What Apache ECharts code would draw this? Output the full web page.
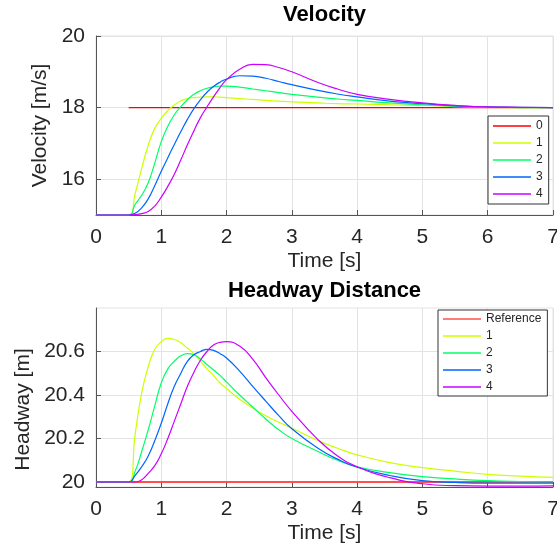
<!DOCTYPE html>
<html>
<head>
<meta charset="utf-8">
<script src="https://cdn.jsdelivr.net/npm/echarts@6/dist/echarts.min.js"></script>
<style>
  html, body { margin: 0; padding: 0; background: #fff; }
  #chart { width: 557px; height: 549px; }
</style>
</head>
<body>
<div id="chart"></div>
<script>
// time samples [s]
const time = [0, 0.5, 0.6, 0.7, 0.8, 0.9, 1.0, 1.1, 1.2, 1.3, 1.4, 1.5, 1.6, 1.7, 1.8, 1.9, 2.0,
              2.2, 2.4, 2.6, 2.8, 3.0, 3.4, 3.7, 4.0, 4.5, 5.0, 5.5, 6.0, 6.5, 7.0];

// velocity [m/s]
const velRefTime = [0.5, 7];
const velRef = [18, 18];
const vel1 = [15, 15, 15.6, 16.3, 16.95, 17.42, 17.7, 17.92, 18.07, 18.19, 18.25, 18.28, 18.29, 18.3, 18.3, 18.29, 18.28,
              18.25, 18.23, 18.2, 18.18, 18.16, 18.13, 18.11, 18.1, 18.08, 18.06, 18.03, 18.01, 18.0, 18.0];
const vel2 = [15, 15, 15.3, 15.55, 15.9, 16.45, 17.05, 17.48, 17.8, 18.03, 18.22, 18.37, 18.47, 18.54, 18.58, 18.6, 18.6,
              18.57, 18.52, 18.47, 18.42, 18.37, 18.29, 18.24, 18.2, 18.13, 18.08, 18.04, 18.02, 18.0, 18.0];
const vel3 = [15, 15, 15.05, 15.2, 15.45, 15.82, 16.22, 16.6, 16.97, 17.33, 17.67, 17.97, 18.22, 18.43, 18.59, 18.71, 18.8,
              18.89, 18.88, 18.82, 18.73, 18.64, 18.48, 18.38, 18.3, 18.18, 18.11, 18.05, 18.02, 18.01, 18.0];
const vel4 = [15, 15, 15.01, 15.04, 15.1, 15.25, 15.5, 15.8, 16.14, 16.54, 16.96, 17.35, 17.72, 18.02, 18.3, 18.56, 18.78,
              19.07, 19.21, 19.2, 19.12, 19.0, 18.7, 18.52, 18.37, 18.23, 18.13, 18.06, 18.02, 18.01, 18.0];

// headway [m]
const headRefTime = [0, 7];
const headRef = [20, 20];
const head1 = [20, 20, 20.22, 20.41, 20.53, 20.61, 20.645, 20.66, 20.655, 20.64, 20.615, 20.59, 20.555, 20.52, 20.49, 20.455, 20.43,
               20.38, 20.34, 20.305, 20.275, 20.248, 20.19, 20.155, 20.125, 20.089, 20.066, 20.05, 20.035, 20.027, 20.021];
const head2 = [20, 20, 20.05, 20.14, 20.24, 20.35, 20.455, 20.52, 20.555, 20.58, 20.59, 20.585, 20.565, 20.54, 20.515, 20.49, 20.46,
               20.4, 20.345, 20.29, 20.24, 20.2, 20.14, 20.1, 20.07, 20.043, 20.025, 20.014, 20.006, 20.002, 20.0];
const head3 = [20, 20, 20.03, 20.07, 20.12, 20.19, 20.27, 20.36, 20.44, 20.5, 20.555, 20.585, 20.6, 20.61, 20.605, 20.59, 20.57,
               20.51, 20.44, 20.372, 20.305, 20.245, 20.155, 20.105, 20.068, 20.03, 20.006, 19.998, 19.995, 19.995, 19.995];
const head4 = [20, 20, 20.0, 20.01, 20.04, 20.075, 20.13, 20.2, 20.28, 20.36, 20.44, 20.505, 20.56, 20.6, 20.63, 20.642, 20.645,
               20.625, 20.565, 20.48, 20.4, 20.325, 20.195, 20.12, 20.07, 20.02, 19.992, 19.983, 19.981, 19.981, 19.982];

const velTicks = [16, 18, 20];
const headTicks = [20, 20.2, 20.4, 20.6];
const xTicks = [0, 1, 2, 3, 4, 5, 6, 7];

const velNames = ['0', '1', '2', '3', '4'];
const headNames = ['Reference', '1', '2', '3', '4'];
const colors = ['#ff0000', '#ccff00', '#00ff66', '#0066ff', '#cc00ff'];

const FONT = 'Liberation Sans, Arial, Helvetica, sans-serif';
const TXT = '#262626';
const AXIS = '#555555';
const GRIDC = '#e3e3e3';

const pairs = (ts, vs) => ts.map((t, i) => [t, vs[i]]);

const xAxisFor = (gridIndex) => ({
    type: 'value', gridIndex: gridIndex, min: 0, max: 7, interval: 1,
    name: 'Time [s]', nameLocation: 'middle', nameGap: 36,
    nameTextStyle: { fontFamily: FONT, fontSize: 21, color: TXT },
    axisLine: { show: true, lineStyle: { color: AXIS, width: 1 } },
    axisTick: { show: true, inside: true, length: 5, lineStyle: { color: AXIS } },
    axisLabel: { fontFamily: FONT, fontSize: 21, color: TXT, margin: 12,
                 customValues: xTicks },
    splitLine: { show: true, lineStyle: { color: GRIDC, width: 1 } }
});

const yAxisFor = (gridIndex, min, max, ticks, name, gap, pad) => ({
    type: 'value', gridIndex: gridIndex, min: min, max: max,
    name: name, nameLocation: 'middle', nameGap: gap,
    nameTextStyle: { fontFamily: FONT, fontSize: 21, color: TXT, padding: pad },
    axisLine: { show: true, lineStyle: { color: AXIS, width: 1 } },
    axisTick: { show: true, inside: true, length: 5, lineStyle: { color: AXIS }, customValues: ticks },
    axisLabel: { fontFamily: FONT, fontSize: 21, color: TXT, margin: 11, customValues: ticks },
    splitLine: { show: true, lineStyle: { color: GRIDC, width: 1 } }
});

const lineSeries = (name, data, color, axisIdx, width) => ({
    name: name, type: 'line', data: data,
    xAxisIndex: axisIdx, yAxisIndex: axisIdx,
    symbol: 'none', showSymbol: false, smooth: 0.5,
    lineStyle: { color: color, width: width || 1.2 },
    itemStyle: { color: color },
    emphasis: { disabled: true }
});

const velData = [pairs(velRefTime, velRef), pairs(time, vel1), pairs(time, vel2), pairs(time, vel3), pairs(time, vel4)];
const headData = [pairs(headRefTime, headRef), pairs(time, head1), pairs(time, head2), pairs(time, head3), pairs(time, head4)];

const series = [];
velData.forEach((d, i) => series.push(lineSeries(velNames[i], d, colors[i], 0)));
headData.forEach((d, i) => series.push(lineSeries(headNames[i] + ' ', d, i === 0 ? '#ff5050' : colors[i], 1, i === 0 ? 2 : 1.2)));

const legendStyle = {
    orient: 'vertical', backgroundColor: '#fff', borderColor: '#333', borderWidth: 1,
    icon: 'rect', itemWidth: 38, itemHeight: 1.4, itemGap: 5,
    textStyle: { fontFamily: FONT, fontSize: 12, color: TXT }
};

const gridBase = { left: 96, width: 457, height: 179, show: true, borderColor: GRIDC, borderWidth: 1,
                   backgroundColor: 'transparent', outerBoundsMode: 'none', containLabel: false };

const chart = echarts.init(document.getElementById('chart'), null, { renderer: 'canvas' });
chart.setOption({
    animation: false,
    backgroundColor: '#fff',
    title: [
        { text: 'Velocity', left: 324.5, textAlign: 'center', top: 4, padding: 0,
          textStyle: { fontFamily: FONT, fontSize: 22, fontWeight: 'bold', color: '#000' } },
        { text: 'Headway Distance', left: 324.5, textAlign: 'center', top: 280, padding: 0,
          textStyle: { fontFamily: FONT, fontSize: 22, fontWeight: 'bold', color: '#000' } }
    ],
    grid: [
        Object.assign({}, gridBase, { top: 36 }),
        Object.assign({}, gridBase, { top: 308 })
    ],
    xAxis: [xAxisFor(0), xAxisFor(1)],
    yAxis: [
        yAxisFor(0, 15, 20, velTicks, 'Velocity [m/s]', 36, 0),
        yAxisFor(1, 19.977, 20.8, headTicks, 'Headway [m]', 52, [0, 24, 0, 0])
    ],
    legend: [
        Object.assign({}, legendStyle, { data: velNames, left: 488, top: 116, padding: [4, 6, 4, 5] }),
        Object.assign({}, legendStyle, { data: headNames.map(n => n + ' '), left: 438, top: 310, padding: [3, 6, 3, 5],
            formatter: n => n.trim() })
    ],
    series: series
});
</script>
</body>
</html>
